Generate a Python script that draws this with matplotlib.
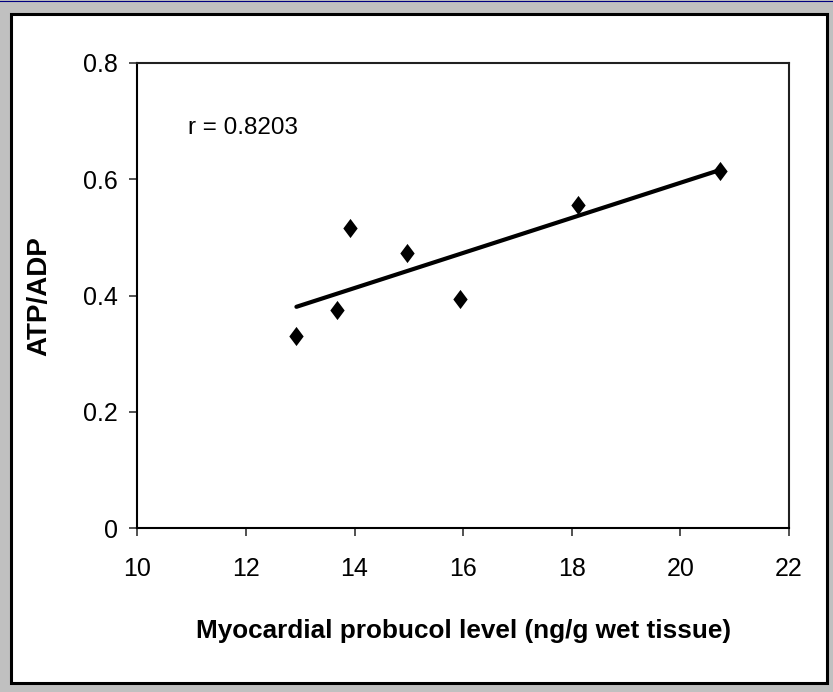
import numpy as np
import matplotlib
matplotlib.use("Agg")
import matplotlib.pyplot as plt
from matplotlib.patches import Rectangle
from matplotlib.lines import Line2D

plt.rcParams['font.family'] = ['Liberation Sans', 'DejaVu Sans']

# values
probucol = [12.93, 13.67, 13.91, 14.97, 15.95, 18.12, 20.73]
atp_adp = [0.331, 0.376, 0.517, 0.473, 0.394, 0.556, 0.615]
x_ticks = [10, 12, 14, 16, 18, 20, 22]
y_ticks = [0, 0.2, 0.4, 0.6, 0.8]
y_labels = ['0', '0.2', '0.4', '0.6', '0.8']
r_text = 'r = 0.8203'

W, H = 833, 692
fig = plt.figure(figsize=(W / 100, H / 100), dpi=100)
fig.patch.set_facecolor('#c0c0c0')

# white chart area with black frame (pixel coords -> figure fraction)
x0, y0, x1, y1 = 11, 14, 827, 683
fig.patches.append(Rectangle((x0 / W, 1 - y1 / H), (x1 - x0) / W, (y1 - y0) / H,
                             transform=fig.transFigure, facecolor='white',
                             edgecolor='black', linewidth=2.2, zorder=-5))
fig.lines.append(Line2D([0, 1], [1 - 0.5 / H, 1 - 0.5 / H], transform=fig.transFigure,
                        color='#000080', linewidth=0.8, zorder=-5))

left, right, top, bottom = 137.3, 789, 63, 528.3
ax = fig.add_axes([left / W, 1 - bottom / H, (right - left) / W, (bottom - top) / H])
ax.set_zorder(1)
ax.set_facecolor('white')

diamond = [(-0.75, 0), (0, 1), (0.75, 0), (0, -1)]
ax.scatter(probucol, atp_adp, marker=diamond, s=190, color='black', zorder=3, linewidths=0)

# linear trendline over the data range
k, b = np.polyfit(probucol, atp_adp, 1)
xs = np.array([min(probucol), max(probucol)])
ax.plot(xs, k * xs + b, color='black', linewidth=3, solid_capstyle='round', zorder=2)

ax.text(10.93, 0.688, r_text, fontsize=17.5, ha='left', va='center')

ax.set_xlim(10, 22)
ax.set_ylim(0, 0.8)
ax.set_xticks(x_ticks)
ax.set_yticks(y_ticks)
ax.set_yticklabels(y_labels)
ax.tick_params(axis='both', direction='out', length=6, width=1.2, color='#333333',
               labelsize=18)
ax.tick_params(axis='x', pad=15)
ax.tick_params(axis='y', pad=8)

for side in ['left', 'bottom']:
    ax.spines[side].set_linewidth(1.5)
    ax.spines[side].set_color('black')
for side in ['top', 'right']:
    ax.spines[side].set_linewidth(1.5)
    ax.spines[side].set_color('#202020')

ax.set_xlabel('Myocardial probucol level (ng/g wet tissue)', fontsize=18.8,
              fontweight='bold', labelpad=27)
ax.set_ylabel('ATP/ADP', fontsize=20, fontweight='bold', labelpad=22)

fig.savefig('out.png', dpi=100, facecolor=fig.get_facecolor())
